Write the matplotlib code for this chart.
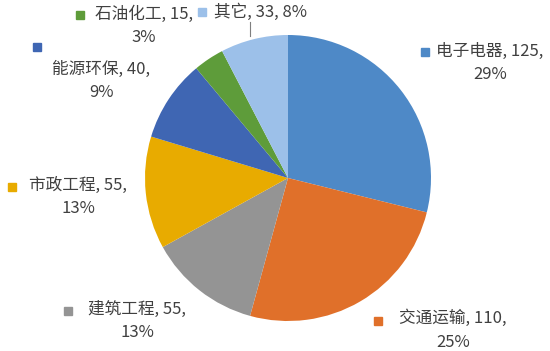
import matplotlib.pyplot as plt

plt.rcParams['font.family'] = ['Noto Sans CJK SC', 'DejaVu Sans']

# data
categories = ['电子电器', '交通运输', '建筑工程', '市政工程', '能源环保', '石油化工', '其它']
values = [125, 110, 55, 55, 40, 15, 33]
percents = ['29%', '25%', '13%', '13%', '9%', '3%', '8%']
colors = ['#4E89C7', '#E0702A', '#949494', '#E8AB00', '#3F66B3', '#5E9C3A', '#9CC0E9']

# pixel layout of the reference (550x351)
W, H = 550, 351
cx, cy, R = 288, 178, 143

def d(px, py):
    return (px - cx) / R, (cy - py) / R

fig = plt.figure(figsize=(5.5, 3.51), dpi=100)
ax = fig.add_axes([0, 0, 1, 1])
ax.pie(values, colors=colors, startangle=90, counterclock=False, radius=1,
       wedgeprops=dict(linewidth=0))
ax.set_xlim(-cx / R, (W - cx) / R)
ax.set_ylim(-(H - cy) / R, cy / R)
ax.set_aspect('auto')
ax.axis('off')

# label text block centre, and marker position (pixels)
texts = [f'{c}, {v},\n{p}' for c, v, p in zip(categories, values, percents)]
texts[6] = f'{categories[6]}, {values[6]}, {percents[6]}'
text_pos = [(490, 63), (453, 330), (137, 321), (78, 197), (101, 81), (144, 26), (260, 12)]
mark_pos = [(425, 52), (378, 321), (68, 311), (12, 187), (37, 47), (80, 15), (202, 12)]

for t, tp, mp, c in zip(texts, text_pos, mark_pos, colors):
    ax.text(*d(*tp), t, ha='center', va='center', multialignment='center',
            fontsize=12, color='#404040', linespacing=1.5)
    ax.plot(*d(*mp), marker='s', markersize=5.5, color=c, linestyle='none')

# leader line for 其它
x0, y0 = d(250, 22)
x1, y1 = d(250, 36)
ax.plot([x0, x1], [y0, y1], color='#7f7f7f', linewidth=0.8)

fig.savefig('out.png', dpi=100)
